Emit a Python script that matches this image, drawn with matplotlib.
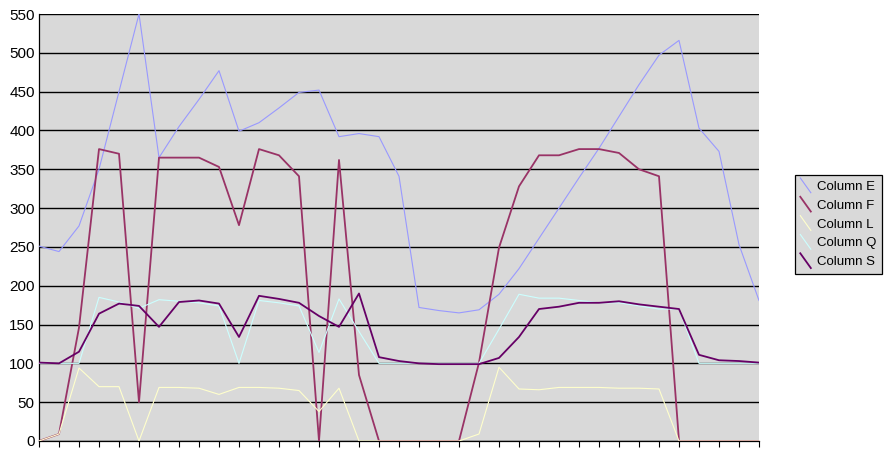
import matplotlib
matplotlib.use("Agg")
import matplotlib.pyplot as plt
from matplotlib.lines import Line2D
from matplotlib.legend_handler import HandlerBase

plt.rcParams["font.family"] = ["Liberation Sans", "DejaVu Sans"]

# values, one per category (37 rows)
col_e = [251, 244, 277, 350, 450, 550, 365, 405, 440, 477, 399, 410, 429, 449, 452, 392, 396, 392, 341,
         172, 168, 165, 169, 189, 222, 261, 300, 339, 377, 418, 459, 497, 516, 403, 373, 253, 181]
col_f = [0, 9, 146, 376, 370, 50, 365, 365, 365, 353, 278, 376, 368, 341, 0, 362, 85, 0, 0,
         0, 0, 0, 101, 249, 328, 368, 368, 376, 376, 371, 350, 341, 0, 0, 0, 0, 0]
col_l = [0, 9, 94, 70, 70, 0, 69, 69, 68, 60, 69, 69, 68, 65, 38, 68, 0, 0, 0,
         0, 0, 0, 9, 95, 67, 66, 69, 69, 69, 68, 68, 67, 0, 0, 0, 0, 0]
col_q = [100, 100, 100, 185, 179, 171, 182, 180, 178, 174, 100, 181, 178, 174, 114, 183, 141, 100, 100,
         100, 100, 100, 100, 144, 189, 184, 184, 181, 178, 178, 174, 170, 170, 100, 100, 100, 100]
col_s = [101, 100, 115, 164, 177, 174, 147, 179, 181, 177, 134, 187, 183, 178, 161, 147, 190, 108, 103,
         100, 99, 99, 99, 107, 134, 170, 173, 178, 178, 180, 176, 173, 170, 111, 104, 103, 101]

series = [
    ("Column E", col_e, "#9999FF", 0.8),
    ("Column F", col_f, "#993366", 1.3),
    ("Column L", col_l, "#FFFFCC", 0.8),
    ("Column Q", col_q, "#CCFFFF", 0.8),
    ("Column S", col_s, "#660066", 1.3),
]

_GRAY = "#D9D9D9"


class DiagonalHandler(HandlerBase):
    # Excel-style legend key: a short line drawn corner to corner
    def create_artists(self, legend, orig_handle, xdescent, ydescent,
                       width, height, fontsize, trans):
        x0, y0 = -xdescent, -ydescent
        line = Line2D([x0, x0 + width], [y0 + height * 1.3, y0 - height * 0.3],
                      color=orig_handle.get_color(), lw=orig_handle.get_linewidth(),
                      transform=trans)
        return [line]


fig = plt.figure(figsize=(8.84, 4.5), dpi=100)
ax = fig.add_axes([39 / 884, 1 - 441 / 450, 720 / 884, 427 / 450])
ax.set_facecolor(_GRAY)

x = list(range(len(col_e)))
handles = []
for name, vals, color, lw in series:
    (ln,) = ax.plot(x, vals, color=color, linewidth=lw, label=name, zorder=3)
    handles.append(ln)

ax.set_xlim(0, len(x) - 1)
ax.set_ylim(0, 550)
ax.set_yticks(range(0, 551, 50))
ax.set_xticks(x)
ax.set_xticklabels([])
ax.yaxis.grid(True, color="black", linewidth=1.0, zorder=1)
ax.set_axisbelow(True)
ax.tick_params(axis="x", direction="out", length=4, width=0.8, color="black")
ax.tick_params(axis="y", direction="out", length=0, labelsize=11, pad=3)
for side in ("top", "right"):
    ax.spines[side].set_visible(False)
for side in ("left", "bottom"):
    ax.spines[side].set_color("black")
    ax.spines[side].set_linewidth(0.9)

leg = fig.legend(handles=handles, loc="center left", bbox_to_anchor=(795 / 884, 1 - 224.5 / 450),
                 handler_map={Line2D: DiagonalHandler()}, fontsize=9.5, frameon=True,
                 fancybox=False, handlelength=0.8, handletextpad=0.5, labelspacing=0.5,
                 borderpad=0.4, borderaxespad=0)
leg.get_frame().set_facecolor(_GRAY)
leg.get_frame().set_edgecolor("black")
leg.get_frame().set_linewidth(0.9)
leg.get_frame().set_alpha(1)

fig.savefig("out.png", dpi=100)
